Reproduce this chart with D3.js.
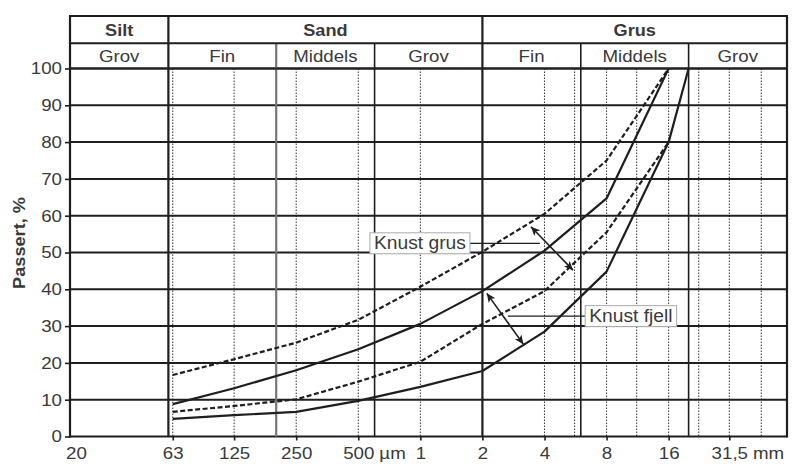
<!DOCTYPE html>
<html><head><meta charset="utf-8">
<script src="https://cdn.jsdelivr.net/npm/d3@7"></script>
<style>body{margin:0;background:#fff} svg{display:block}</style>
</head><body><svg id="c" width="792" height="464"></svg>
<script>
// ---- data ----
const sieves      = [0.063, 0.125, 0.25, 0.5, 1, 2, 4, 8, 16];
const grusUpper   = [16.7, 21, 25.5, 31.7, 40.7, 50.2, 60.5, 75, 100];
const grusLower   = [6.7, 8.3, 10.1, 14.9, 20.3, 30.6, 39.5, 55.5, 80];
const fjellUpper  = [8.8, 13.1, 18, 23.7, 30.6, 39.5, 50.5, 64.7, 100];
const fjellLowerSizes = [0.063, 0.125, 0.25, 0.5, 1, 2, 4, 8, 16, 20];
const fjellLower  = [4.8, 5.8, 6.7, 9.7, 13.5, 17.8, 28.5, 44.8, 80, 100];

const xTickValues = [0.02, 0.063, 0.125, 0.25, 0.5, 1, 2, 4, 8, 16, 31.5];
const xTickLabels = ["20", "63", "125", "250", "500", "1", "2", "4", "8", "16", "31,5"];
const xTickUnits  = ["", "", "", "", "µm", "", "", "", "", "", "mm"];
const dottedSizes = [0.063, 0.125, 0.25, 0.5, 1, 4, 5.6, 8, 11.2, 16, 22.4, 31.5, 45];
const boundarySizes = [0.06, 0.2, 0.6, 2, 6, 20];
const yTicks = [0, 10, 20, 30, 40, 50, 60, 70, 80, 90, 100];
const mainNames = ["Silt", "Sand", "Grus"];
const mainBounds = [0.02, 0.06, 2, 60];
const subNames = ["Grov", "Fin", "Middels", "Grov", "Fin", "Middels", "Grov"];
const subBounds = [0.02, 0.06, 0.2, 0.6, 2, 6, 20, 60];

const grusLabel = "Knust grus";
const grusArrow = [[3.44, 57], [5.5, 45.2]];
const grusLeader = [[1.74, 52.5], [3.8, 52.5]];
const fjellLabel = "Knust fjell";
const fjellArrow = [[2.1, 38.9], [3.16, 25.1]];
const fjellLeader = [[6.3, 32.7], [2.66, 32.7]];

// ---- layout ----
const svg = d3.select("#c");
const pLeft = 70, pRight = 787, pTop = 68.5, pBottom = 436.5;
const headTop = 16, headMid = 43.3;
const x = d3.scaleLog().domain([0.02, 60]).range([pLeft, pRight]);
const y = d3.scaleLinear().domain([0, 100]).range([pBottom, pTop]);
const font = "'Liberation Sans', Arial, Helvetica, sans-serif";
const txt = "#3a3a3a";
const ink = "#1e1e1e";
const K = 1.1; // horizontal stretch of lettering
function stretch(sel) {
  sel.each(function () {
    const w = this.getComputedTextLength();
    this.setAttribute("textLength", w * K);
    this.setAttribute("lengthAdjust", "spacingAndGlyphs");
  });
}

const defs = svg.append("defs");
defs.append("marker").attr("id", "ah").attr("viewBox", "0 0 10 10")
  .attr("refX", 10).attr("refY", 5).attr("markerWidth", 9).attr("markerHeight", 9)
  .attr("markerUnits", "userSpaceOnUse").attr("orient", "auto-start-reverse")
  .append("path").attr("d", "M0,0.5 L10,5 L0,9.5 L2.5,5 Z").attr("fill", ink);

// dotted verticals
svg.append("g").selectAll("line").data(dottedSizes).join("line")
  .attr("x1", d => x(d)).attr("x2", d => x(d)).attr("y1", pTop).attr("y2", pBottom)
  .attr("stroke", "#333").attr("stroke-width", 1).attr("stroke-dasharray", "1.5,1.5");

// horizontal grid
svg.append("g").selectAll("line").data(yTicks).join("line")
  .attr("x1", pLeft).attr("x2", pRight).attr("y1", d => y(d)).attr("y2", d => y(d))
  .attr("stroke", ink).attr("stroke-width", 2);

// class boundaries (plot + header row 2)
svg.append("g").selectAll("line").data(boundarySizes).join("line")
  .attr("x1", d => x(d)).attr("x2", d => x(d))
  .attr("y1", d => (d === 0.06 || d === 2) ? headTop : headMid).attr("y2", pBottom)
  .attr("stroke", d => d === 0.2 ? "#777" : ink)
  .attr("stroke-width", d => (d === 0.06 || d === 2 || d === 0.2) ? 2.2 : 1.6);

// header frame
svg.append("rect").attr("x", pLeft).attr("y", headTop).attr("width", pRight - pLeft).attr("height", pTop - headTop)
  .attr("fill", "none").attr("stroke", ink).attr("stroke-width", 2);
svg.append("line").attr("x1", pLeft).attr("x2", pRight).attr("y1", headMid).attr("y2", headMid)
  .attr("stroke", ink).attr("stroke-width", 2);
// plot frame
svg.append("line").attr("x1", pLeft).attr("x2", pLeft).attr("y1", headTop).attr("y2", pBottom + 1)
  .attr("stroke", ink).attr("stroke-width", 2.2);
svg.append("line").attr("x1", pRight).attr("x2", pRight).attr("y1", headTop).attr("y2", pBottom + 1)
  .attr("stroke", ink).attr("stroke-width", 2.2);

// header texts
svg.append("g").selectAll("text").data(mainNames).join("text")
  .attr("x", (d, i) => (x(mainBounds[i]) + x(mainBounds[i + 1])) / 2).attr("y", 35.5)
  .attr("text-anchor", "middle").attr("font-family", font).attr("font-weight", "bold")
  .attr("font-size", 16.5).attr("fill", txt).text(d => d).call(stretch);
svg.append("g").selectAll("text").data(subNames).join("text")
  .attr("x", (d, i) => (x(subBounds[i]) + x(subBounds[i + 1])) / 2).attr("y", 61.5)
  .attr("text-anchor", "middle").attr("font-family", font)
  .attr("font-size", 17).attr("fill", txt).text(d => d).call(stretch);

// y axis
const yAxis = svg.append("g").attr("transform", `translate(${pLeft},0)`)
  .call(d3.axisLeft(y).tickValues(yTicks).tickSize(5).tickPadding(3));
yAxis.select(".domain").remove();
yAxis.selectAll("line").attr("stroke", ink).attr("stroke-width", 1.6);
yAxis.selectAll("text").attr("font-family", font).attr("font-size", 17).attr("fill", txt).call(stretch);

// x axis
const xAxis = svg.append("g").attr("transform", `translate(0,${pBottom})`)
  .call(d3.axisBottom(x).tickValues(xTickValues).tickSize(4).tickPadding(6)
    .tickFormat((d, i) => xTickLabels[i]));
xAxis.select(".domain").remove();
xAxis.selectAll("line").attr("stroke", ink).attr("stroke-width", 1.6);
xAxis.selectAll("text").attr("font-family", font).attr("font-size", 17).attr("fill", txt).call(stretch);
// first label sits just inside the frame
xAxis.selectAll(".tick").filter(d => d === xTickValues[0]).select("text").attr("x", 6);
xAxis.selectAll(".tick").filter(d => d === xTickValues[0]).select("line").remove();
xAxis.selectAll(".tick").filter(d => xTickUnits[xTickValues.indexOf(d)] !== "")
  .each(function (d) {
    const i = xTickValues.indexOf(d);
    const main = this.querySelector("text");
    const w = main.getComputedTextLength();
    d3.select(this).append("text").attr("y", 10).attr("dy", "0.71em").attr("x", w / 2 + 5)
      .attr("font-family", font).attr("font-size", 17).attr("fill", txt).attr("text-anchor", "start")
      .text(xTickUnits[i]).call(stretch);
  });

// y title
svg.append("text").attr("transform", "translate(25,243) rotate(-90)")
  .attr("text-anchor", "middle").attr("font-family", font).attr("font-weight", "bold")
  .attr("font-size", 16.5).attr("fill", txt).text("Passert, %").call(stretch);

// curves
const line = d3.line().x(d => x(d[0])).y(d => y(d[1]));
const series = [
  { xs: sieves, ys: grusUpper, dash: "5,2.5" },
  { xs: sieves, ys: grusLower, dash: "5,2.5" },
  { xs: sieves, ys: fjellUpper, dash: null },
  { xs: fjellLowerSizes, ys: fjellLower, dash: null }
];
svg.append("g").selectAll("path").data(series).join("path")
  .attr("d", s => line(s.xs.map((v, i) => [v, s.ys[i]])))
  .attr("fill", "none").attr("stroke", ink).attr("stroke-width", 2.2)
  .attr("stroke-dasharray", s => s.dash).attr("stroke-linejoin", "round");

// annotations
function leader(pts) {
  svg.append("path").attr("d", line(pts)).attr("stroke", ink).attr("stroke-width", 1.3).attr("fill", "none");
}
function arrow(pts) {
  svg.append("path").attr("d", line(pts)).attr("stroke", ink).attr("stroke-width", 1.6).attr("fill", "none")
    .attr("marker-start", "url(#ah)").attr("marker-end", "url(#ah)");
}
function label(text, px, py, anchorRight) {
  const g = svg.append("g");
  const t = g.append("text").attr("font-family", font).attr("font-size", 17.5).attr("fill", txt)
    .attr("dy", "0.35em").text(text);
  const w = t.node().getComputedTextLength() * K;
  t.attr("textLength", w).attr("lengthAdjust", "spacingAndGlyphs");
  const bx = anchorRight ? px - w - 8 : px;
  t.attr("x", bx + 4).attr("y", py);
  g.insert("rect", "text").attr("x", bx).attr("y", py - 10.5).attr("width", w + 8).attr("height", 21)
    .attr("fill", "#fff").attr("stroke", "#aaa").attr("stroke-width", 1);
}
leader(grusLeader);
leader(fjellLeader);
arrow(grusArrow);
arrow(fjellArrow);
label(grusLabel, x(grusLeader[0][0]), y(grusLeader[0][1]), true);
label(fjellLabel, x(fjellLeader[0][0]), y(fjellLeader[0][1]), false);
</script></body></html>
